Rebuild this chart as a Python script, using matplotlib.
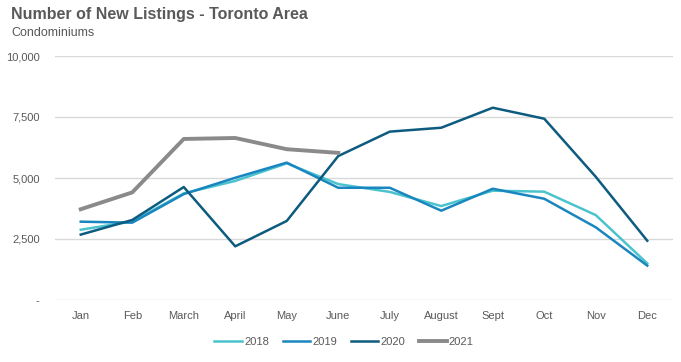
import matplotlib.pyplot as plt
import numpy as np

months = ['Jan', 'Feb', 'March', 'April', 'May', 'June', 'July', 'August',
          'Sept', 'Oct', 'Nov', 'Dec']
listings_2018 = [2880, 3220, 4370, 4880, 5600, 4750, 4430, 3850, 4480, 4440, 3480, 1500]
listings_2019 = [3210, 3170, 4340, 5010, 5630, 4600, 4600, 3660, 4560, 4150, 2980, 1410]
listings_2020 = [2680, 3280, 4630, 2200, 3240, 5900, 6900, 7060, 7880, 7430, 5050, 2430]
listings_2021 = [3720, 4410, 6600, 6640, 6180, 6030]

yticks = [0, 2500, 5000, 7500, 10000]
ytick_labels = ['-', '2,500', '5,000', '7,500', '10,000']

plt.rcParams['font.family'] = ['Liberation Sans', 'DejaVu Sans']
txt = '#595959'

fig = plt.figure(figsize=(6.81, 3.62), dpi=100)
ax = fig.add_axes([55 / 681, 62 / 362, 618 / 681, 244 / 362])

x = np.arange(len(months))
ax.plot(x, listings_2018, color='#4bc3cf', lw=1.8, label='2018')
ax.plot(x, listings_2019, color='#1a86bf', lw=1.8, label='2019')
ax.plot(x, listings_2020, color='#0d5b7f', lw=1.8, label='2020')
ax.plot(x[:len(listings_2021)], listings_2021, color='#8a8a8a', lw=2.8, label='2021')

ax.set_xlim(-0.5, len(months) - 0.5)
ax.set_ylim(0, 10000)
ax.set_xticks(x)
ax.set_xticklabels(months)
ax.set_yticks(yticks)
ax.set_yticklabels(ytick_labels)
ax.tick_params(axis='both', length=0, labelsize=8, colors=txt)
ax.tick_params(axis='x', pad=8)
ax.tick_params(axis='y', pad=11)
ax.grid(axis='y', color='#d9d9d9', lw=1)
ax.set_axisbelow(True)
for s in ax.spines.values():
    s.set_visible(False)

fig.text(11 / 681, 1 - 15 / 362, 'Number of New Listings - Toronto Area',
         fontsize=11.5, fontweight='bold', color=txt, va='center')
fig.text(11 / 681, 1 - 33 / 362, 'Condominiums', fontsize=9, color=txt, va='center')

fig.legend(loc='center', bbox_to_anchor=(344 / 681, 1 - 342 / 362), ncol=4,
           frameon=False, fontsize=8, handlelength=2.5, columnspacing=1.2,
           labelcolor=txt, handletextpad=0.2)

plt.savefig('out.png', dpi=100)
